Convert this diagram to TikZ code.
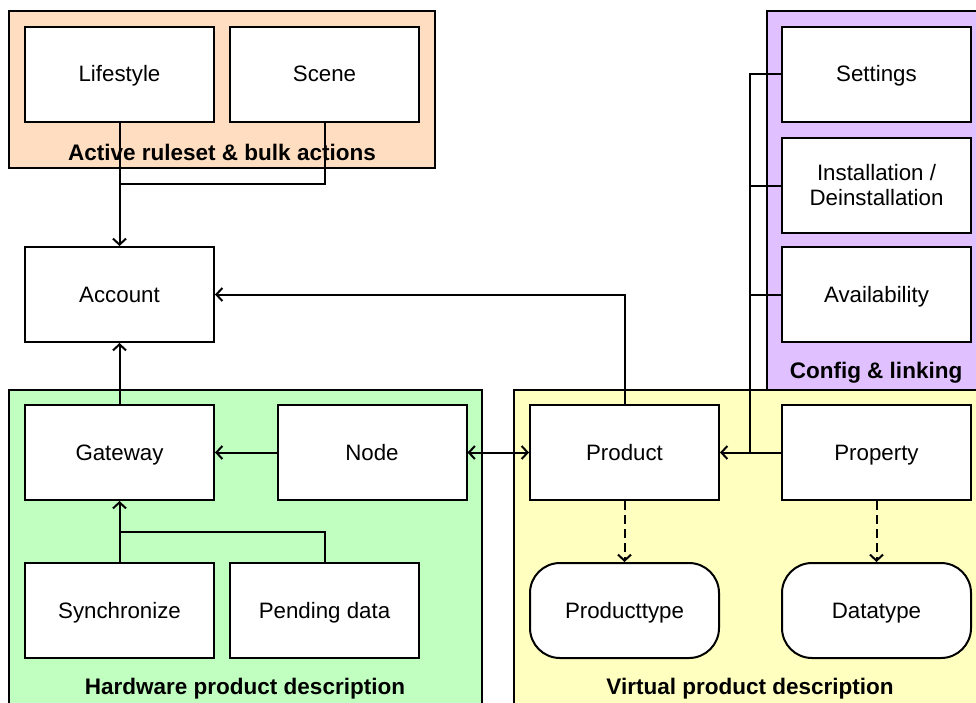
\documentclass[tikz,border=0pt]{standalone}
\usepackage{fontspec}
\setmainfont{Liberation Sans}
\usetikzlibrary{arrows.meta}
\definecolor{peach}{HTML}{FFDDC0}
\definecolor{mint}{HTML}{C0FFC0}
\definecolor{cream}{HTML}{FFFFC0}
\definecolor{lilac}{HTML}{E0C0FF}
\tikzset{
  boxbase/.style={draw=black, fill=white, line width=2pt, minimum width=189pt, minimum height=95pt,
    inner sep=0pt, align=center, font=\fontsize{22.3}{25}\selectfont},
  entity/.style={boxbase, text height=18pt, text depth=3pt},
  typebox/.style={entity, rounded corners=30pt},
  group/.style={draw=black, line width=2pt},
  grouplabel/.style={font=\fontsize{22.5}{26}\selectfont\bfseries, inner sep=0pt},
  link/.style={line width=2pt, draw=black},
  arr/.style={link, -{Straight Barb[length=6pt,width=13pt,line width=2pt]}},
  darr/.style={link, {Straight Barb[length=6pt,width=13pt,line width=2pt]}-{Straight Barb[length=6pt,width=13pt,line width=2pt]}},
  dashedarr/.style={arr, dash pattern=on 9pt off 5pt},
}
\begin{document}
\begin{tikzpicture}[x=1pt, y=-1pt]
\useasboundingbox (0,0) rectangle (976,702);
\fill[white] (0,0) rectangle (976,702);

% group backgrounds
\begin{scope}
  \clip (0,0) rectangle (976,702);
  \path[group, fill=peach] (9,11) rectangle (435,168);
  \path[group, fill=lilac] (767,11) rectangle (990,390);
  \path[group, fill=mint] (9,390) rectangle (482,720);
  \path[group, fill=cream] (514,390) rectangle (990,720);
\end{scope}

\node[grouplabel] (lblActive) at (222,152) {Active ruleset \& bulk actions};
\node[grouplabel] (lblConfig) at (876,373) {Config \& linking};
\node[grouplabel] (lblHw) at (245,689) {Hardware product description};
\node[grouplabel] (lblVirt) at (750,689) {Virtual product description};

% entities
\node[entity] (lifestyle) at (119.5,74) {Lifestyle};
\node[entity] (scene) at (324.5,74) {Scene};
\node[entity] (account) at (119.5,294.5) {Account};
\node[entity] (gateway) at (119.5,452.5) {Gateway};
\node[entity] (node) at (372,452.5) {Node};
\node[entity] (sync) at (119.5,610.5) {Synchronize};
\node[entity] (pending) at (324.5,610.5) {Pending data};
\node[entity] (product) at (624.5,452.5) {Product};
\node[entity] (property) at (876.5,452.5) {Property};
\node[typebox] (producttype) at (624.5,610.5) {Producttype};
\node[typebox] (datatype) at (876.5,610.5) {Datatype};
\node[entity] (settings) at (876.5,74) {Settings};
\node[boxbase] (install) at (876.5,185.5) {Installation /\\Deinstallation};
\node[entity] (avail) at (876.5,294.5) {Availability};

% junction points
\coordinate (joinTop) at (119.5,184);
\coordinate (joinBottom) at (119.5,532);
\coordinate (bus) at (750,452.5);

% connectors
\draw[link] (scene.south) |- (joinTop);
\draw[arr] (lifestyle.south) -- (account.north);
\draw[arr] (gateway.north) -- (account.south);
\draw[arr] (product.north) |- (account.east);
\draw[arr] (node.west) -- (gateway.east);
\draw[darr] (node.east) -- (product.west);
\draw[link] (pending.north) |- (joinBottom);
\draw[arr] (sync.north) -- (gateway.south);
\draw[link] (settings.west) -| (bus);
\draw[link] (install.west) -- (install.west -| bus);
\draw[link] (avail.west) -- (avail.west -| bus);
\draw[arr] (property.west) -- (product.east);
\draw[dashedarr] (product.south) -- (producttype.north);
\draw[dashedarr] (property.south) -- (datatype.north);
\end{tikzpicture}
\end{document}
